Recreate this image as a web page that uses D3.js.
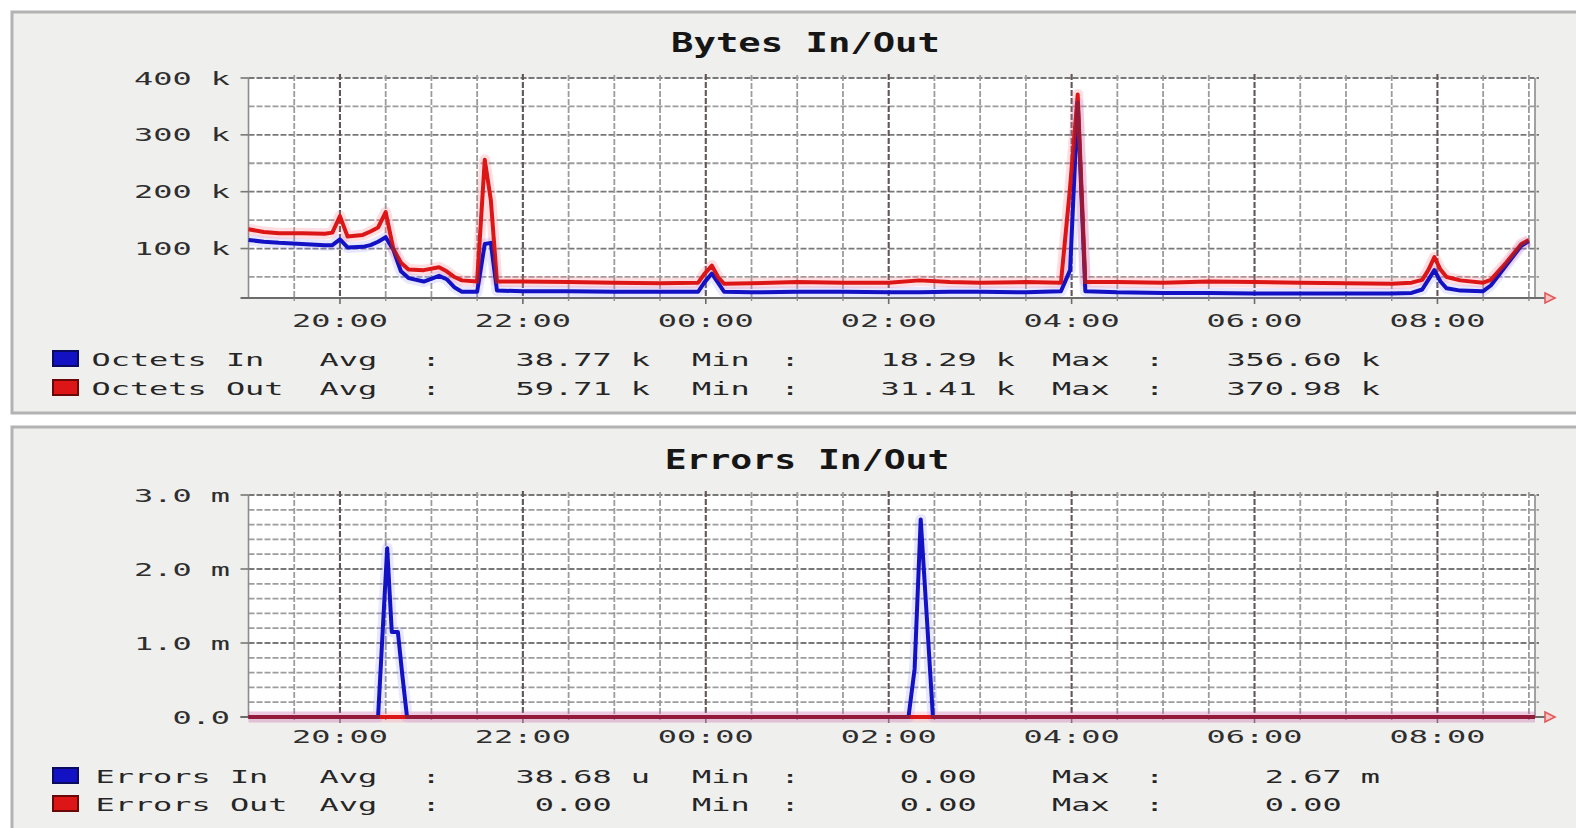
<!DOCTYPE html>
<html><head><meta charset="utf-8">
<script src="https://cdn.jsdelivr.net/npm/d3@7"></script>
<style>
html,body{margin:0;padding:0;background:#fff;}
svg{display:block;}
</style></head>
<body>
<svg id="chart" width="1576" height="828"></svg>
<script>
// ---------------- data ----------------
const bytesTimes = ["19:00","19:10","19:20","19:35","19:50","19:55","20:00","20:05","20:15","20:20","20:25","20:30","20:35","20:40","20:45","20:55","21:05","21:10","21:15","21:20","21:30","21:35","21:39","21:43","22:00","22:30","23:00","23:30","23:55","23:59","00:04","00:08","00:12","00:30","01:00","01:30","02:00","02:20","02:40","03:00","03:30","03:53","03:59","04:04","04:09","04:30","05:00","05:30","06:00","06:30","07:00","07:30","07:43","07:50","07:54","07:58","08:02","08:06","08:15","08:30","08:35","08:45","08:55","09:00"];
const octetsIn  = [115,112,110,108,106,106,116,102,103,106,112,120,98,60,48,42,52,46,32,24,24,108,110,26,25,25,24,24,24,40,56,40,24,23,24,24,23,23,24,24,23,25,62,356.6,25,23,22,22,21,21,21,21,22,28,45,62,42,30,26,25,35,70,105,113];
const octetsOut = [134,129,127,127,126,128,157,121,124,130,137,164,100,75,63,62,67,60,50,44,42,256,185,42,42,41,40,39,40,55,70,50,38,39,41,40,40,44,41,40,41,40,208,370.98,41,41,40,42,41,40,39,38,40,45,62,85,63,50,44,40,45,75,108,115];

const errTimes  = ["19:00","20:25","20:28","20:31","20:34","20:38","20:41","20:44","02:13","02:17","02:21","02:25","02:29","09:04"];
const errorsIn  = [0,0,1.15,2.28,1.15,1.15,0.55,0,0,0.65,2.67,1.35,0,0];
const errorsOut = [0,0,0,0,0,0,0,0,0,0,0,0,0,0];

const timeStart = "19:00", timeEnd = "09:04";
const hourTicks = ["20:00","22:00","00:00","02:00","04:00","06:00","08:00"];
const bytesYTicks = [100,200,300,400];      // k
const bytesYMinor = [50,100,150,200,250,300,350,400];
const errYTicks = [0,1,2,3];                // m
const errYMinor = [0.2,0.4,0.6,0.8,1.0,1.2,1.4,1.6,1.8,2.0,2.2,2.4,2.6,2.8,3.0];

const bytesLegend = [
  ["Octets In",  "38.77 k", "18.29 k", "356.60 k"],
  ["Octets Out", "59.71 k", "31.41 k", "370.98 k"]
];
const errLegend = [
  ["Errors In",  "38.68 u", "0.00", "2.67 m"],
  ["Errors Out", "0.00",    "0.00", "0.00"]
];

// ---------------- layout / style ----------------
const W = 1576, H = 828;
const FONT = "'DejaVu Sans Mono','Liberation Mono',monospace";
const CW = 19.2;
const COL_IN = "#1212c4", COL_OUT = "#dc1616", COL_OV = "#921a3a";
const LW = 4;
const PL = 248.5, PR = 1535;

function parseT(s){
  const [h,m] = s.split(":").map(Number);
  return new Date(2024, 0, h < 12 ? 2 : 1, h, m);
}
const x = d3.scaleTime().domain([parseT(timeStart), parseT(timeEnd)]).range([PL, PR]);

const svg = d3.select("#chart");
const defs = svg.append("defs");

function addText(g, str, x0, yb, o = {}){
  const cw = o.cw || CW;
  const len = str.length * cw;
  let xs = x0;
  if (o.anchor === "end") xs = x0 - len;
  if (o.anchor === "middle") xs = x0 - len/2;
  return g.append("text")
    .attr("x", xs).attr("y", yb)
    .attr("textLength", len).attr("lengthAdjust", "spacingAndGlyphs")
    .style("white-space", "pre")
    .attr("font-family", FONT)
    .attr("font-size", o.size || 18)
    .attr("font-weight", o.weight || "normal")
    .attr("fill", o.fill || "#262626")
    .text(str);
}

const panels = [
  { rectY: 12, rectH: 401, title: "Bytes In/Out", titleX: 805.5, titleY: 52, titleCw: 22.4,
    top: 78, bottom: 298, domain: [13, 400], ticks: bytesYTicks, minor: bytesYMinor,
    fmt: v => v + " k",
    times: bytesTimes, vin: octetsIn, vout: octetsOut,
    xLabelY: 327, legend: bytesLegend, legendY: [366, 395], nameX: 91.5 },
  { rectY: 427, rectH: 440, title: "Errors In/Out", titleX: 807, titleY: 469, titleCw: 21.9,
    top: 495, bottom: 717, domain: [0, 3], ticks: errYTicks, minor: errYMinor,
    fmt: v => v === 0 ? "0.0" : v.toFixed(1) + " m",
    times: errTimes, vin: errorsIn, vout: errorsOut,
    xLabelY: 743, legend: errLegend, legendY: [783, 811], nameX: 95.5 }
];

panels.forEach((p, pi) => {
  const g = svg.append("g");
  // panel background
  g.append("rect").attr("x", 12).attr("y", p.rectY).attr("width", 1600).attr("height", p.rectH)
    .attr("fill", "#efefed").attr("stroke", "#b3b3b3").attr("stroke-width", 3);

  const y = d3.scaleLinear().domain(p.domain).range([p.bottom, p.top]);

  // plot background
  g.append("rect").attr("x", PL).attr("y", p.top).attr("width", PR - PL).attr("height", p.bottom - p.top)
    .attr("fill", "#ffffff");

  // horizontal grid
  g.selectAll(null).data(p.minor).enter().append("line")
    .attr("x1", PL).attr("x2", PR + 4)
    .attr("y1", d => y(d)).attr("y2", d => y(d))
    .attr("stroke", d => p.ticks.includes(d) ? "#787878" : "#9c9c9c")
    .attr("stroke-width", 1.8).attr("stroke-dasharray", "6,2");

  // vertical grid
  const majors = hourTicks.map(parseT);
  const minors = d3.timeMinute.every(30).range(parseT("19:30"), parseT("09:01"))
    .filter(t => !majors.some(m => +m === +t));
  g.selectAll(null).data(minors).enter().append("line")
    .attr("x1", d => x(d)).attr("x2", d => x(d))
    .attr("y1", p.top - 3).attr("y2", p.bottom)
    .attr("stroke", "#9c9c9c").attr("stroke-width", 1.8).attr("stroke-dasharray", "6,2");
  g.selectAll(null).data(majors).enter().append("line")
    .attr("x1", d => x(d)).attr("x2", d => x(d))
    .attr("y1", p.top - 4).attr("y2", p.bottom)
    .attr("stroke", "#625656").attr("stroke-width", 2.1).attr("stroke-dasharray", "6,2");

  // frame: right edge and y axis
  g.append("line").attr("x1", PR).attr("x2", PR).attr("y1", p.top).attr("y2", p.bottom)
    .attr("stroke", "#8c8c8c").attr("stroke-width", 1.6);
  g.append("line").attr("x1", PL).attr("x2", PL).attr("y1", p.top).attr("y2", p.bottom)
    .attr("stroke", "#8c8c8c").attr("stroke-width", 1.6);
  // y tick stubs
  g.selectAll(null).data(p.ticks).enter().append("line")
    .attr("x1", PL - 8).attr("x2", PL).attr("y1", d => y(d)).attr("y2", d => y(d))
    .attr("stroke", "#777").attr("stroke-width", 1.6);
  // x axis
  g.append("line").attr("x1", PL - 8).attr("x2", PR + 10).attr("y1", p.bottom).attr("y2", p.bottom)
    .attr("stroke", "#6c6c6c").attr("stroke-width", 2);
  g.selectAll(null).data(majors).enter().append("line")
    .attr("x1", d => x(d)).attr("x2", d => x(d)).attr("y1", p.bottom).attr("y2", p.bottom + 6)
    .attr("stroke", "#6c6c6c").attr("stroke-width", 1.6);
  g.selectAll(null).data(minors).enter().append("line")
    .attr("x1", d => x(d)).attr("x2", d => x(d)).attr("y1", p.bottom).attr("y2", p.bottom + 3)
    .attr("stroke", "#8c8c8c").attr("stroke-width", 1.4);

  // series
  const inData = p.times.map((t, i) => ({ t: parseT(t), v: p.vin[i] }));
  const outData = p.times.map((t, i) => ({ t: parseT(t), v: p.vout[i] }));
  const line = d3.line().x(d => x(d.t)).y(d => y(d.v));

  g.append("path").attr("d", line(inData)).attr("fill", "none")
    .attr("stroke", "#8888ff").attr("stroke-opacity", 0.2).attr("stroke-width", 11)
    .attr("stroke-linejoin", "round");
  g.append("path").attr("d", line(outData)).attr("fill", "none")
    .attr("stroke", "#ff6b7a").attr("stroke-opacity", 0.22).attr("stroke-width", 11)
    .attr("stroke-linejoin", "round");
  g.append("path").attr("d", line(inData)).attr("fill", "none")
    .attr("stroke", COL_IN).attr("stroke-width", LW).attr("stroke-linejoin", "round");
  g.append("path").attr("d", line(outData)).attr("fill", "none")
    .attr("stroke", COL_OUT).attr("stroke-width", LW).attr("stroke-linejoin", "round");
  // where both lines overlap the colours mix into a dark maroon
  const mask = defs.append("mask").attr("id", "ov" + pi)
    .attr("maskUnits", "userSpaceOnUse").attr("x", 0).attr("y", 0).attr("width", W).attr("height", H);
  mask.append("path").attr("d", line(inData)).attr("fill", "none")
    .attr("stroke", "#fff").attr("stroke-width", LW).attr("stroke-linejoin", "round");
  g.append("path").attr("d", line(outData)).attr("fill", "none")
    .attr("stroke", COL_OV).attr("stroke-width", LW).attr("stroke-linejoin", "round")
    .attr("mask", "url(#ov" + pi + ")");

  // arrow at end of x axis
  const yb = p.bottom;
  g.append("path").attr("d", `M${PR+10},${yb-5} L${PR+20},${yb} L${PR+10},${yb+5} Z`)
    .attr("fill", "#f6c4c4").attr("stroke", "#e05a5a").attr("stroke-width", 1.6);

  // y labels
  p.ticks.forEach(v => addText(g, p.fmt(v), 230, y(v) + 6.5, { anchor: "end", fill: "#2e2e2e" }));
  // x labels
  majors.forEach(t => addText(g, d3.timeFormat("%H:%M")(t), x(t), p.xLabelY, { anchor: "middle", fill: "#2e2e2e" }));

  // title
  addText(g, p.title, p.titleX, p.titleY, { anchor: "middle", size: 26, weight: "bold", cw: p.titleCw, fill: "#161616" });

  // legend
  const cols = [COL_IN, COL_OUT], borders = ["#0a0a60", "#6a0808"];
  p.legend.forEach((row, ri) => {
    const by = p.legendY[ri];
    g.append("rect").attr("x", 53).attr("y", by - 15).attr("width", 25).attr("height", 15)
      .attr("fill", cols[ri]).attr("stroke", borders[ri]).attr("stroke-width", 2);
    addText(g, row[0], p.nameX, by);
    const blocks = [
      { lab: "Avg", lx: 319.5, colon: 431, end: 650, val: row[1] },
      { lab: "Min", lx: 692, colon: 790, end: 1015, val: row[2] },
      { lab: "Max", lx: 1052, colon: 1154.5, end: 1380, val: row[3] }
    ];
    blocks.forEach(b => {
      addText(g, b.lab, b.lx, by);
      addText(g, ":", b.colon, by, { anchor: "middle" });
      const hasUnit = /\s\S$/.test(b.val);
      addText(g, b.val, hasUnit ? b.end : b.end - 2 * CW, by, { anchor: "end" });
    });
  });
});
</script>
</body></html>
